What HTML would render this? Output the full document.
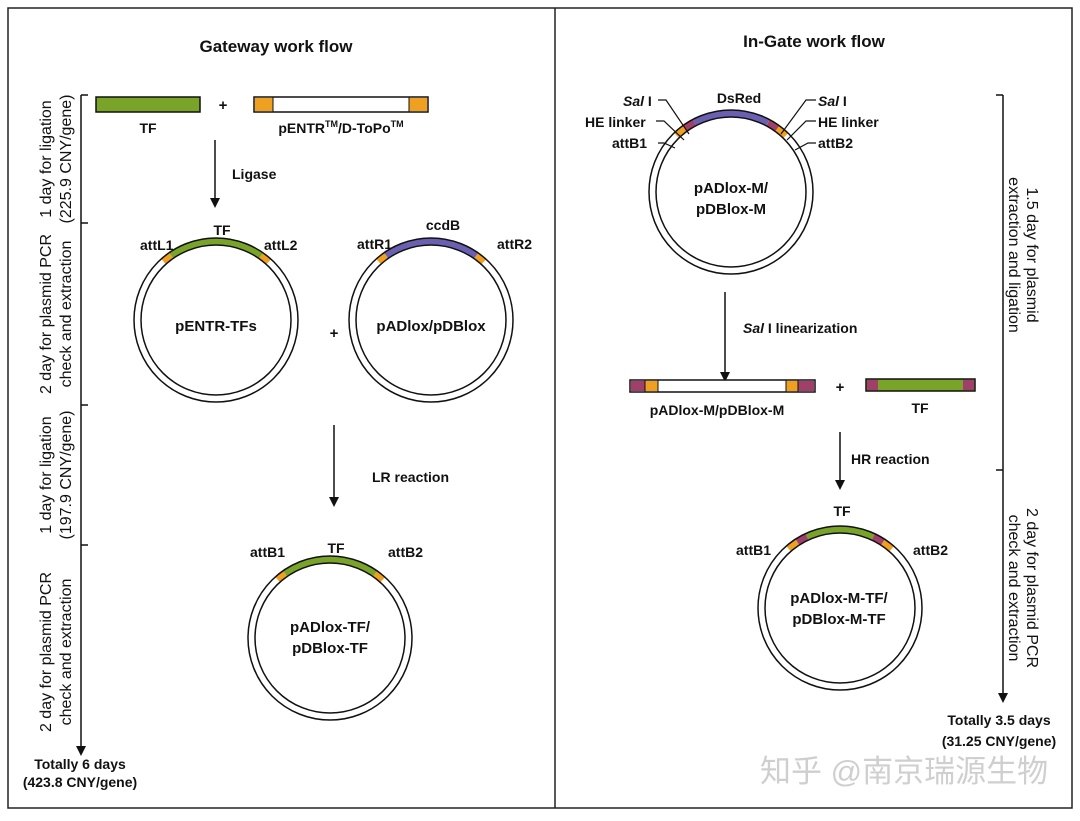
<!DOCTYPE html>
<html><head><meta charset="utf-8"><style>
html,body{margin:0;padding:0;background:#fff}
svg text{font-family:"Liberation Sans","Noto Sans CJK SC",sans-serif;font-weight:bold;fill:#111}
</style></head><body>
<svg width="1080" height="816" viewBox="0 0 1080 816" xmlns="http://www.w3.org/2000/svg">
<rect x="8" y="8" width="1064" height="800" fill="none" stroke="#222" stroke-width="1.5"/>
<line x1="555" y1="8" x2="555" y2="808" stroke="#222" stroke-width="1.5"/>
<text x="276" y="52" font-size="17" text-anchor="middle">Gateway work flow</text>
<text x="814" y="47" font-size="17" text-anchor="middle">In-Gate work flow</text>

<!-- left timeline -->
<line x1="81" y1="95" x2="81" y2="746" stroke="#111" stroke-width="1.5"/>
<path d="M76,746 L86,746 L81,756 Z" fill="#111"/>
<g stroke="#111" stroke-width="1.5"><line x1="81" y1="95" x2="88" y2="95"/><line x1="81" y1="223" x2="88" y2="223"/><line x1="81" y1="405" x2="88" y2="405"/><line x1="81" y1="545" x2="88" y2="545"/></g>
<g font-size="16" text-anchor="middle">
<text transform="translate(51,159) rotate(-90)" style="font-weight:normal">1 day for ligation</text>
<text transform="translate(71,159) rotate(-90)" style="font-weight:normal">(225.9 CNY/gene)</text>
<text transform="translate(51,314) rotate(-90)" style="font-weight:normal">2 day for plasmid PCR</text>
<text transform="translate(71,314) rotate(-90)" style="font-weight:normal">check and extraction</text>
<text transform="translate(51,475) rotate(-90)" style="font-weight:normal">1 day for ligation</text>
<text transform="translate(71,475) rotate(-90)" style="font-weight:normal">(197.9 CNY/gene)</text>
<text transform="translate(51,652) rotate(-90)" style="font-weight:normal">2 day for plasmid PCR</text>
<text transform="translate(71,652) rotate(-90)" style="font-weight:normal">check and extraction</text>
</g>
<text x="80" y="769" font-size="14" text-anchor="middle">Totally 6 days</text>
<text x="80" y="787" font-size="14" text-anchor="middle">(423.8 CNY/gene)</text>

<!-- top bars -->
<rect x="96" y="97" width="104" height="15" fill="#7aa32a" stroke="#111" stroke-width="1.5"/>
<text x="148" y="133" font-size="14" text-anchor="middle">TF</text>
<text x="223" y="110" font-size="15" text-anchor="middle">+</text>
<rect x="254" y="97" width="174" height="15" fill="#fff" stroke="#111" stroke-width="1.5"/>
<rect x="255" y="98" width="18" height="13" fill="#f0a020"/><rect x="409" y="98" width="18" height="13" fill="#f0a020"/>
<line x1="273" y1="97" x2="273" y2="112" stroke="#111"/><line x1="409" y1="97" x2="409" y2="112" stroke="#111"/>
<text x="341" y="133" font-size="14" text-anchor="middle">pENTR<tspan font-size="9" dy="-6">TM</tspan><tspan dy="6">/D-ToPo</tspan><tspan font-size="9" dy="-6">TM</tspan></text>
<line x1="215" y1="140" x2="215" y2="198" stroke="#111" stroke-width="1.5"/><path d="M210,198 L220,198 L215,208 Z" fill="#111"/>
<text x="232" y="179" font-size="14">Ligase</text>

<!-- circle pENTR -->
<g transform="translate(216,320)">
<circle r="78.5" fill="none" stroke="#fff" stroke-width="7"/>
<circle r="78.5" fill="none" stroke="#7aa32a" stroke-width="7" stroke-dasharray="95.9 600" stroke-dashoffset="-322"/>
<circle r="78.5" fill="none" stroke="#f0a020" stroke-width="7" stroke-dasharray="9.6 600" stroke-dashoffset="-312.4"/>
<circle r="78.5" fill="none" stroke="#f0a020" stroke-width="7" stroke-dasharray="9.6 600" stroke-dashoffset="-417.9"/>
<circle r="82" fill="none" stroke="#111" stroke-width="1.5"/><circle r="75" fill="none" stroke="#111" stroke-width="1.5"/>
</g>
<text x="222" y="235" font-size="14" text-anchor="middle">TF</text>
<text x="140" y="250" font-size="14">attL1</text>
<text x="264" y="250" font-size="14">attL2</text>
<text x="216" y="331" font-size="15" text-anchor="middle">pENTR-TFs</text>
<text x="334" y="338" font-size="15" text-anchor="middle">+</text>

<g transform="translate(431,320)">
<circle r="78.5" fill="none" stroke="#fff" stroke-width="7"/>
<circle r="78.5" fill="none" stroke="#6a5fb0" stroke-width="7" stroke-dasharray="95.9 600" stroke-dashoffset="-322"/>
<circle r="78.5" fill="none" stroke="#f0a020" stroke-width="7" stroke-dasharray="9.6 600" stroke-dashoffset="-312.4"/>
<circle r="78.5" fill="none" stroke="#f0a020" stroke-width="7" stroke-dasharray="9.6 600" stroke-dashoffset="-417.9"/>
<circle r="82" fill="none" stroke="#111" stroke-width="1.5"/><circle r="75" fill="none" stroke="#111" stroke-width="1.5"/>
</g>
<text x="443" y="230" font-size="14" text-anchor="middle">ccdB</text>
<text x="357" y="249" font-size="14">attR1</text>
<text x="497" y="249" font-size="14">attR2</text>
<text x="431" y="331" font-size="15" text-anchor="middle">pADlox/pDBlox</text>

<line x1="334" y1="425" x2="334" y2="497" stroke="#111" stroke-width="1.5"/><path d="M329,497 L339,497 L334,507 Z" fill="#111"/>
<text x="372" y="482" font-size="14">LR reaction</text>

<g transform="translate(330,638)">
<circle r="78.5" fill="none" stroke="#fff" stroke-width="7"/>
<circle r="78.5" fill="none" stroke="#7aa32a" stroke-width="7" stroke-dasharray="95.9 600" stroke-dashoffset="-322"/>
<circle r="78.5" fill="none" stroke="#f0a020" stroke-width="7" stroke-dasharray="9.6 600" stroke-dashoffset="-312.4"/>
<circle r="78.5" fill="none" stroke="#f0a020" stroke-width="7" stroke-dasharray="9.6 600" stroke-dashoffset="-417.9"/>
<circle r="82" fill="none" stroke="#111" stroke-width="1.5"/><circle r="75" fill="none" stroke="#111" stroke-width="1.5"/>
</g>
<text x="336" y="553" font-size="14" text-anchor="middle">TF</text>
<text x="250" y="557" font-size="14">attB1</text>
<text x="388" y="557" font-size="14">attB2</text>
<text x="330" y="632" font-size="15" text-anchor="middle">pADlox-TF/</text>
<text x="330" y="653" font-size="15" text-anchor="middle">pDBlox-TF</text>

<!-- right side -->
<g transform="translate(731,192)">
<circle r="78.5" fill="none" stroke="#fff" stroke-width="7"/>
<circle r="78.5" fill="none" stroke="#6a5fb0" stroke-width="7" stroke-dasharray="76.7 600" stroke-dashoffset="-331.5"/>
<circle r="78.5" fill="none" stroke="#a0406a" stroke-width="7" stroke-dasharray="11 600" stroke-dashoffset="-320.6"/>
<circle r="78.5" fill="none" stroke="#a0406a" stroke-width="7" stroke-dasharray="11 600" stroke-dashoffset="-408.3"/>
<circle r="78.5" fill="none" stroke="#f0a020" stroke-width="7" stroke-dasharray="11 600" stroke-dashoffset="-309.6"/>
<circle r="78.5" fill="none" stroke="#f0a020" stroke-width="7" stroke-dasharray="11 600" stroke-dashoffset="-419.2"/>
<circle r="82" fill="none" stroke="#111" stroke-width="1.5"/><circle r="75" fill="none" stroke="#111" stroke-width="1.5"/>
</g>
<g stroke="#111" stroke-width="1.2" fill="none">
<path d="M658,100 L666,100 L689,134"/><path d="M656,121 L664,121 L684,140"/><path d="M658,143 L664,143 L675,148"/>
<path d="M816,100 L806,100 L781,134"/><path d="M816,121 L806,121 L787,140"/><path d="M816,143 L808,143 L795,150"/>
</g>
<text x="623" y="106" font-size="14"><tspan font-style="italic">Sal</tspan> I</text>
<text x="585" y="127" font-size="14">HE linker</text>
<text x="612" y="148" font-size="14">attB1</text>
<text x="739" y="103" font-size="14" text-anchor="middle">DsRed</text>
<text x="818" y="106" font-size="14"><tspan font-style="italic">Sal</tspan> I</text>
<text x="818" y="127" font-size="14">HE linker</text>
<text x="818" y="148" font-size="14">attB2</text>
<text x="731" y="193" font-size="15" text-anchor="middle">pADlox-M/</text>
<text x="731" y="214" font-size="15" text-anchor="middle">pDBlox-M</text>

<line x1="725" y1="292" x2="725" y2="372" stroke="#111" stroke-width="1.5"/><path d="M720,372 L730,372 L725,382 Z" fill="#111"/>
<text x="743" y="333" font-size="14"><tspan font-style="italic">Sal</tspan> I linearization</text>

<rect x="630" y="380" width="185" height="12" fill="#fff" stroke="#111" stroke-width="1.5"/>
<rect x="631" y="381" width="14" height="10" fill="#a0406a"/><rect x="645" y="381" width="13" height="10" fill="#f0a020"/>
<rect x="786" y="381" width="12" height="10" fill="#f0a020"/><rect x="798" y="381" width="16" height="10" fill="#a0406a"/>
<g stroke="#111"><line x1="645" y1="380" x2="645" y2="392"/><line x1="658" y1="380" x2="658" y2="392"/><line x1="786" y1="380" x2="786" y2="392"/><line x1="798" y1="380" x2="798" y2="392"/></g>
<text x="717" y="415" font-size="14" text-anchor="middle">pADlox-M/pDBlox-M</text>
<text x="840" y="392" font-size="15" text-anchor="middle">+</text>
<rect x="866" y="379" width="109" height="12" fill="#7aa32a" stroke="#111" stroke-width="1.5"/>
<rect x="867" y="380" width="11" height="10" fill="#a0406a"/><rect x="963" y="380" width="11" height="10" fill="#a0406a"/>
<text x="920" y="413" font-size="14" text-anchor="middle">TF</text>

<line x1="840" y1="432" x2="840" y2="480" stroke="#111" stroke-width="1.5"/><path d="M835,480 L845,480 L840,490 Z" fill="#111"/>
<text x="851" y="464" font-size="14">HR reaction</text>

<g transform="translate(840,608)">
<circle r="78.5" fill="none" stroke="#fff" stroke-width="7"/>
<circle r="78.5" fill="none" stroke="#7aa32a" stroke-width="7" stroke-dasharray="68.5 600" stroke-dashoffset="-335.7"/>
<circle r="78.5" fill="none" stroke="#a0406a" stroke-width="7" stroke-dasharray="11 600" stroke-dashoffset="-324.7"/>
<circle r="78.5" fill="none" stroke="#a0406a" stroke-width="7" stroke-dasharray="11 600" stroke-dashoffset="-404.2"/>
<circle r="78.5" fill="none" stroke="#f0a020" stroke-width="7" stroke-dasharray="11 600" stroke-dashoffset="-313.7"/>
<circle r="78.5" fill="none" stroke="#f0a020" stroke-width="7" stroke-dasharray="11 600" stroke-dashoffset="-415.1"/>
<circle r="82" fill="none" stroke="#111" stroke-width="1.5"/><circle r="75" fill="none" stroke="#111" stroke-width="1.5"/>
</g>
<text x="842" y="516" font-size="14" text-anchor="middle">TF</text>
<text x="736" y="555" font-size="14">attB1</text>
<text x="913" y="555" font-size="14">attB2</text>
<text x="839" y="603" font-size="15" text-anchor="middle">pADlox-M-TF/</text>
<text x="839" y="624" font-size="15" text-anchor="middle">pDBlox-M-TF</text>

<!-- right timeline -->
<line x1="1003" y1="95" x2="1003" y2="693" stroke="#111" stroke-width="1.5"/>
<path d="M998,693 L1008,693 L1003,703 Z" fill="#111"/>
<g stroke="#111" stroke-width="1.5"><line x1="996" y1="95" x2="1003" y2="95"/><line x1="996" y1="470" x2="1003" y2="470"/></g>
<g font-size="16" text-anchor="middle">
<text transform="translate(1027,255) rotate(90)" style="font-weight:normal">1.5 day for plasmid</text>
<text transform="translate(1009,255) rotate(90)" style="font-weight:normal">extraction and ligation</text>
<text transform="translate(1027,588) rotate(90)" style="font-weight:normal">2 day for plasmid PCR</text>
<text transform="translate(1009,588) rotate(90)" style="font-weight:normal">check and extraction</text>
</g>
<text x="999" y="725" font-size="14" text-anchor="middle">Totally 3.5 days</text>
<text x="999" y="746" font-size="14" text-anchor="middle">(31.25 CNY/gene)</text>

<text x="760" y="782" font-size="31" style="font-weight:normal;fill:#cfcfcf">知乎 @南京瑞源生物</text>
</svg>
</body></html>
